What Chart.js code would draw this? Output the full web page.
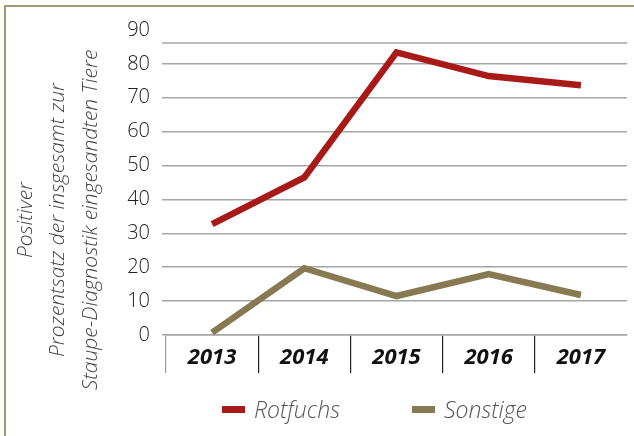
<!DOCTYPE html>
<html>
<head>
<meta charset="utf-8">
<script src="https://cdn.jsdelivr.net/npm/chart.js@4"></script>
<style>
  body { margin: 0; background: #fff; }
  #wrap { position: relative; width: 634px; height: 436px; overflow: hidden; }
  #frame { position: absolute; left: 4px; top: 5px; width: 700px; height: 500px;
           border-left: 2px solid #a59672; border-top: 2px solid #a59672; }
  #legend { position: absolute; left: 222px; top: 393px; display: flex; align-items: center;
            font: italic 300 23px "Open Sans"; color: #555; }
  #legend .item { display: flex; align-items: center; margin-right: 72px; }
  #legend .box { width: 23px; height: 7px; margin-right: 9px; }
</style>
</head>
<body>
<div id="wrap">
  <canvas id="chart" width="634" height="436"></canvas>
  <div id="frame"></div>
  <div id="legend"></div>
</div>
<script>
(function () {
    const years = ['2013', '2014', '2015', '2016', '2017'];
    const rotfuchs = [32.7, 46.5, 83.4, 76.4, 73.7];
    const sonstige = [0.7, 19.7, 11.5, 18.0, 11.8];
    const seriesNames = ['Rotfuchs', 'Sonstige'];
    const seriesColors = ['#a81a18', '#877a52'];
    const yMin = 0, yMax = 90, yStep = 10;
    const topRule = 86.2; // extra rule drawn below the top label in the original
    const yTitleLines = [
        'Positiver',
        'Prozentsatz der insgesamt zur',
        'Staupe-Diagnostik eingesandten Tiere'
    ];

    // y title drawn by hand so it can sit off-centre like the original
    const yTitle = {
        id: 'yTitle',
        afterDraw(chart) {
            const ctx = chart.ctx;
            ctx.save();
            ctx.translate(0, 220);
            ctx.rotate(-Math.PI / 2);
            ctx.font = 'italic 300 21px "Open Sans"';
            ctx.fillStyle = '#444';
            ctx.textAlign = 'center';
            ctx.textBaseline = 'middle';
            yTitleLines.forEach((t, i) => ctx.fillText(t, 0, 26 + i * 32.5));
            ctx.restore();
        }
    };

    const extraRule = {
        id: 'extraRule',
        beforeDatasetsDraw(chart) {
            const y = chart.scales.y.getPixelForValue(topRule);
            const ctx = chart.ctx;
            ctx.save();
            ctx.strokeStyle = '#a5a5a5';
            ctx.lineWidth = 1.5;
            ctx.beginPath();
            ctx.moveTo(chart.chartArea.left - 4, y);
            ctx.lineTo(chart.chartArea.right, y);
            ctx.stroke();
            ctx.restore();
        }
    };

    const chart = new Chart(document.getElementById('chart'), {
        type: 'line',
        data: {
            labels: years,
            datasets: [
                { label: seriesNames[0], data: rotfuchs, borderColor: seriesColors[0], backgroundColor: seriesColors[0] },
                { label: seriesNames[1], data: sonstige, borderColor: seriesColors[1], backgroundColor: seriesColors[1] }
            ]
        },
        options: {
            responsive: false,
            animation: false,
            layout: { padding: { top: 30, right: 7, bottom: 63, left: 0 } },
            elements: {
                line: { borderWidth: 6.5, tension: 0, borderCapStyle: 'butt', borderJoinStyle: 'miter' },
                point: { radius: 0 }
            },
            datasets: { line: { clip: false } },
            plugins: { legend: { display: false }, tooltip: { enabled: false } },
            scales: {
                x: {
                    offset: true,
                    afterFit: s => { s.height = 38; },
                    border: { display: true, color: '#a5a5a5', width: 1.5 },
                    grid: {
                        offset: true,
                        drawOnChartArea: false,
                        tickLength: 38,
                        lineWidth: 1.2,
                        color: c => c.type !== 'tick' ? 'rgba(0,0,0,0)' : (c.index === 0 ? '#999' : '#222')
                    },
                    ticks: {
                        padding: -28,
                        color: '#111',
                        font: { family: 'Open Sans', size: 22, weight: 'bold', style: 'italic' }
                    }
                },
                y: {
                    min: yMin,
                    max: yMax,
                    afterFit: s => { s.width = 166; },
                    border: { display: false },
                    grid: {
                        tickLength: 4,
                        lineWidth: 1.5,
                        color: c => c.tick && c.tick.value === yMax ? 'rgba(0,0,0,0)' : '#a5a5a5'
                    },
                    ticks: {
                        stepSize: yStep,
                        padding: 12,
                        color: '#222',
                        font: { family: 'Open Sans', size: 20, weight: 300 }
                    }
                }
            }
        },
        plugins: [yTitle, extraRule]
    });

    const legend = document.getElementById('legend');
    chart.data.datasets.forEach(ds => {
        const item = document.createElement('div');
        item.className = 'item';
        const box = document.createElement('span');
        box.className = 'box';
        box.style.background = ds.borderColor;
        const txt = document.createElement('span');
        txt.textContent = ds.label;
        item.appendChild(box);
        item.appendChild(txt);
        legend.appendChild(item);
    });
})();
</script>
</body>
</html>
